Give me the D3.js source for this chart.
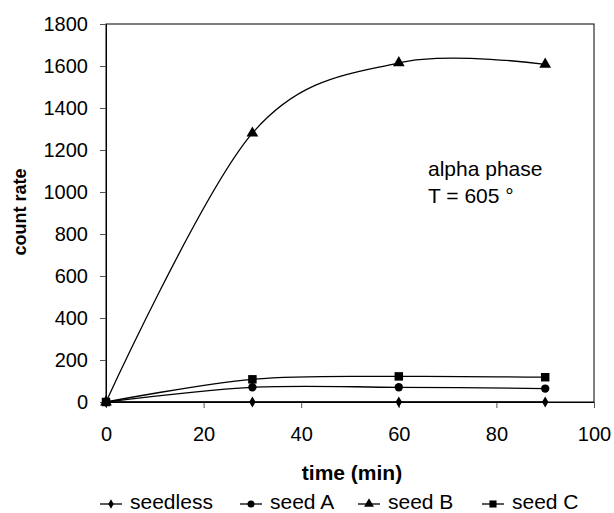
<!DOCTYPE html>
<html>
<head>
<meta charset="utf-8">
<script src="https://cdn.jsdelivr.net/npm/d3@7"></script>
<style>
  body { margin: 0; background: #fff; }
  text { font-family: "Liberation Sans", Arial, sans-serif; fill: #000; }
</style>
</head>
<body>
<svg id="chart" width="614" height="513"></svg>
<script>
const times = [0, 30, 60, 90];
const seedless = [0, 0, 0, 0];
const seedA = [0, 70, 70, 64];
const seedB = [0, 1280, 1615, 1608];
const seedC = [0, 108, 122, 118];
const xTicks = [0, 20, 40, 60, 80, 100];
const yTicks = [0, 200, 400, 600, 800, 1000, 1200, 1400, 1600, 1800];

const series = [
  { name: 'seedless', values: seedless, symbol: d3.symbolDiamond, size: 36 },
  { name: 'seed A', values: seedA, symbol: d3.symbolCircle, size: 55 },
  { name: 'seed B', values: seedB, symbol: d3.symbolTriangle, size: 60 },
  { name: 'seed C', values: seedC, symbol: d3.symbolSquare, size: 72 }
];

const svg = d3.select('#chart');
const x = d3.scaleLinear().domain([0, 100]).range([106, 594]);
const y = d3.scaleLinear().domain([0, 1800]).range([402, 24]);

// frame
svg.append('rect')
  .attr('x', x(0)).attr('y', y(1800))
  .attr('width', x(100) - x(0)).attr('height', y(0) - y(1800))
  .attr('fill', 'none').attr('stroke', '#000').attr('stroke-width', 1);

const xAxis = svg.append('g')
  .attr('transform', `translate(0,${y(0)})`)
  .call(d3.axisBottom(x).tickValues(xTicks).tickFormat(d3.format('d')).tickSize(6).tickPadding(19));
const yAxis = svg.append('g')
  .attr('transform', `translate(${x(0)},0)`)
  .call(d3.axisLeft(y).tickValues(yTicks).tickFormat(d3.format('d')).tickSize(6).tickPadding(12));

[xAxis, yAxis].forEach(g => {
  g.select('.domain').attr('stroke', '#000');
  g.selectAll('.tick line').attr('stroke', '#555');
  g.selectAll('.tick text')
    .style('font-family', '"Liberation Sans", Arial, sans-serif')
    .style('font-size', '20px').attr('fill', '#000');
});

const line = d3.line()
  .x((d, i) => x(times[i]))
  .y(d => y(d))
  .curve(d3.curveCardinal.tension(0));

series.forEach(s => {
  svg.append('path')
    .datum(s.values)
    .attr('d', line)
    .attr('fill', 'none')
    .attr('stroke', '#000')
    .attr('stroke-width', 1.3);
  svg.selectAll(null)
    .data(s.values)
    .enter()
    .append('path')
    .attr('d', d3.symbol().type(s.symbol).size(s.size))
    .attr('transform', (d, i) => `translate(${x(times[i])},${y(d)})`)
    .attr('fill', '#000');
});

// axis titles
svg.append('text')
  .attr('x', 352).attr('y', 480)
  .attr('text-anchor', 'middle')
  .style('font-size', '21px').style('font-weight', 'bold')
  .text('time (min)');
svg.append('text')
  .attr('transform', 'translate(26,212) rotate(-90)')
  .attr('text-anchor', 'middle')
  .style('font-size', '18px').style('font-weight', 'bold')
  .text('count rate');

// annotation
svg.append('text').attr('x', 428).attr('y', 176)
  .style('font-size', '21px').text('alpha phase');
svg.append('text').attr('x', 428).attr('y', 203)
  .style('font-size', '21px').text('T = 605 °');

// legend
const legendX = [100, 240, 358, 482];
series.forEach((s, i) => {
  const g = svg.append('g').attr('transform', `translate(${legendX[i]},504)`);
  g.append('line').attr('x1', 0).attr('x2', 22).attr('y1', 0).attr('y2', 0)
    .attr('stroke', '#000').attr('stroke-width', 1.3);
  g.append('path')
    .attr('d', d3.symbol().type(s.symbol).size(s.size * 0.7))
    .attr('transform', 'translate(11,0)').attr('fill', '#000');
  g.append('text').attr('x', 30).attr('y', 5)
    .style('font-size', '21px').text(s.name);
});
</script>
</body>
</html>
